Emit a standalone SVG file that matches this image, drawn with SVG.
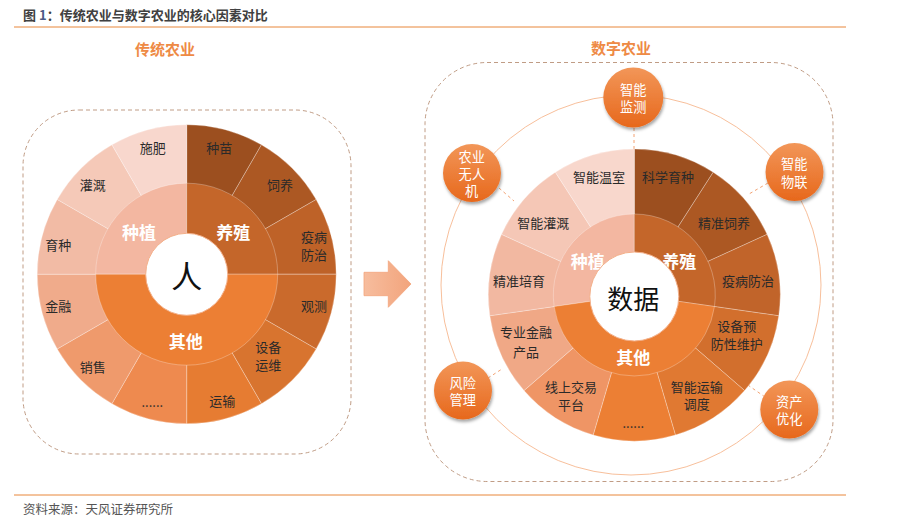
<svg xmlns="http://www.w3.org/2000/svg" width="911" height="517" viewBox="0 0 911 517">
<defs>
<linearGradient id="gBall" x1="0" y1="0" x2="0" y2="1">
<stop offset="0" stop-color="#F29658"/>
<stop offset="1" stop-color="#E7681C"/>
</linearGradient>
<linearGradient id="gArrow" x1="0" y1="0" x2="1" y2="0">
<stop offset="0" stop-color="#F7BD9E"/>
<stop offset="1" stop-color="#F2A47C"/>
</linearGradient>
<filter id="shadow" x="-30%" y="-30%" width="160%" height="170%">
<feDropShadow dx="1" dy="2.5" stdDeviation="1.6" flood-color="#000" flood-opacity="0.35"/>
</filter>
</defs>
<style>
text{font-family:"Noto Sans CJK SC","Noto Sans",sans-serif;}
.seg{stroke:#ffffff;stroke-opacity:0.35;stroke-width:0.8;}
.lbl{font-size:13px;fill:#2A2A2A;text-anchor:middle;dominant-baseline:central;}
.cat{font-size:17px;font-weight:bold;fill:#ffffff;text-anchor:middle;dominant-baseline:central;}
.ball{fill:url(#gBall);filter:url(#shadow);}
.btxt{font-size:13.2px;fill:#ffffff;text-anchor:middle;dominant-baseline:central;}
.box{fill:none;stroke:#C09C85;stroke-width:1;stroke-dasharray:4 3;}
.dash{fill:none;stroke:#F3A272;stroke-width:1;stroke-dasharray:3 3;}
.ring{fill:none;stroke:#F6B890;stroke-width:0.9;}
.title{font-size:15px;fill:#EE8A45;text-anchor:middle;dominant-baseline:central;font-weight:bold;}
</style>
<rect width="911" height="517" fill="#ffffff"/>

<g id="header">
<text x="23" y="14" font-size="13" font-weight="bold" fill="#404040" dominant-baseline="central">图 <tspan fill="#4A5A86">1</tspan>：传统农业与数字农业的核心因素对比</text>
<line x1="14" y1="27" x2="846" y2="27" stroke="#E8873A" stroke-width="1"/>
</g>

<g id="footer">
<line x1="14" y1="495" x2="846" y2="495" stroke="#E8873A" stroke-width="1"/>
<text x="23" y="508" font-size="12.5" fill="#555555" dominant-baseline="central">资料来源：天风证券研究所</text>
</g>

<text class="title" x="165" y="48">传统农业</text>
<text class="title" x="621" y="47">数字农业</text>

<rect class="box" x="23" y="110" width="328" height="344" rx="56" ry="56"/>
<rect class="box" x="425" y="62.5" width="408" height="419" rx="62" ry="62"/>

<g id="connectors">
<circle class="ring" cx="631" cy="285" r="190"/>
<line class="dash" x1="634" y1="128" x2="634" y2="149"/>
<line class="dash" x1="499" y1="188" x2="514" y2="201"/>
<line class="dash" x1="768" y1="183" x2="749" y2="194"/>
<line class="dash" x1="488" y1="378" x2="502" y2="369"/>
<line class="dash" x1="765" y1="397" x2="745" y2="383"/>
</g>

<g id="left-pie">
<g id="seg-zhongmiao"><path class="seg" fill="#9C4F1F" d="M186.7 274.2 L186.7 124.7 A149.5 149.5 0 0 1 261.45 144.73 Z"/><text class="lbl" x="219.3" y="147.3">种苗</text></g>
<g id="seg-siyang"><path class="seg" fill="#AC5823" d="M186.7 274.2 L261.45 144.73 A149.5 149.5 0 0 1 316.17 199.45 Z"/><text class="lbl" x="280" y="184">饲养</text></g>
<g id="seg-yibing"><path class="seg" fill="#BE6228" d="M186.7 274.2 L316.17 199.45 A149.5 149.5 0 0 1 336.2 274.2 Z"/><text class="lbl" x="314" y="236">疫病<tspan x="314" dy="18">防治</tspan></text></g>
<g id="seg-guance"><path class="seg" fill="#CA6A2C" d="M186.7 274.2 L336.2 274.2 A149.5 149.5 0 0 1 316.17 348.95 Z"/><text class="lbl" x="314" y="305">观测</text></g>
<g id="seg-shebei"><path class="seg" fill="#D8742F" d="M186.7 274.2 L316.17 348.95 A149.5 149.5 0 0 1 261.45 403.67 Z"/><text class="lbl" x="268.3" y="346.7">设备<tspan x="268.3" dy="17.3">运维</tspan></text></g>
<g id="seg-yunshu"><path class="seg" fill="#E67C32" d="M186.7 274.2 L261.45 403.67 A149.5 149.5 0 0 1 186.7 423.7 Z"/><text class="lbl" x="222.3" y="400">运输</text></g>
<g id="seg-etc-l"><path class="seg" fill="#EE8A4F" d="M186.7 274.2 L186.7 423.7 A149.5 149.5 0 0 1 111.95 403.67 Z"/><text class="lbl" x="152.3" y="401">......</text></g>
<g id="seg-xiaoshou"><path class="seg" fill="#EF9A6C" d="M186.7 274.2 L111.95 403.67 A149.5 149.5 0 0 1 57.23 348.95 Z"/><text class="lbl" x="92.7" y="366">销售</text></g>
<g id="seg-jinrong"><path class="seg" fill="#F0AB8B" d="M186.7 274.2 L57.23 348.95 A149.5 149.5 0 0 1 37.2 274.2 Z"/><text class="lbl" x="58.3" y="305">金融</text></g>
<g id="seg-yuzhong"><path class="seg" fill="#F2BBA5" d="M186.7 274.2 L37.2 274.2 A149.5 149.5 0 0 1 57.23 199.45 Z"/><text class="lbl" x="58.3" y="244">育种</text></g>
<g id="seg-guangai"><path class="seg" fill="#F5C9B8" d="M186.7 274.2 L57.23 199.45 A149.5 149.5 0 0 1 111.95 144.73 Z"/><text class="lbl" x="92.7" y="184">灌溉</text></g>
<g id="seg-shifei"><path class="seg" fill="#F8D7CD" d="M186.7 274.2 L111.95 144.73 A149.5 149.5 0 0 1 186.7 124.7 Z"/><text class="lbl" x="152.7" y="147.3">施肥</text></g>
<g id="cat-zhongzhi-l"><path class="seg" fill="#F3B7A1" d="M186.7 274.2 L95.7 274.2 A91 91 0 0 1 186.7 183.2 Z"/><text class="cat" x="139" y="231.7">种植</text></g>
<g id="cat-yangzhi-l"><path class="seg" fill="#C4662A" d="M186.7 274.2 L186.7 183.2 A91 91 0 0 1 277.7 274.2 Z"/><text class="cat" x="233.3" y="231.7">养殖</text></g>
<g id="cat-qita-l"><path class="seg" fill="#EC7F34" d="M186.7 274.2 L277.7 274.2 A91 91 0 0 1 95.7 274.2 Z"/><text class="cat" x="185.7" y="340.7">其他</text></g>
<g id="center-ren"><circle cx="186.7" cy="274.3" r="41" fill="#ffffff" stroke="#F3B08A" stroke-width="1"/><text x="186.7" y="274.3" font-size="31" fill="#111111" text-anchor="middle" dominant-baseline="central">人</text></g>
</g>

<g id="arrow">
<polygon points="364,272.3 388.3,272.3 388.3,260.7 411,284 388.3,307.3 388.3,295.7 364,295.7" fill="url(#gArrow)" stroke="#F3A57C" stroke-width="0.8"/>
</g>

<g id="right-pie">
<g id="seg-kexue"><path class="seg" fill="#9C4F1F" d="M634.3 295 L634.3 149 A146 146 0 0 1 713.23 172.17 Z"/><text class="lbl" x="668" y="176">科学育种</text></g>
<g id="seg-jingzhun-sy"><path class="seg" fill="#AC5823" d="M634.3 295 L713.23 172.17 A146 146 0 0 1 767.1 234.35 Z"/><text class="lbl" x="724" y="222.7">精准饲养</text></g>
<g id="seg-yibing-r"><path class="seg" fill="#C1642A" d="M634.3 295 L767.1 234.35 A146 146 0 0 1 778.81 315.78 Z"/><text class="lbl" x="748" y="280.7">疫病防治</text></g>
<g id="seg-shebei-r"><path class="seg" fill="#D26F2D" d="M634.3 295 L778.81 315.78 A146 146 0 0 1 744.63 390.62 Z"/><text class="lbl" x="736.7" y="325">设备预<tspan x="736.7" dy="17.7">防性维护</tspan></text></g>
<g id="seg-yunshu-r"><path class="seg" fill="#E07932" d="M634.3 295 L744.63 390.62 A146 146 0 0 1 675.43 435.09 Z"/><text class="lbl" x="696.7" y="386">智能运输<tspan x="696.7" dy="17.3">调度</tspan></text></g>
<g id="seg-etc-r"><path class="seg" fill="#EC7F34" d="M634.3 295 L675.43 435.09 A146 146 0 0 1 593.17 435.09 Z"/><text class="lbl" x="633.3" y="422">......</text></g>
<g id="seg-xianshang"><path class="seg" fill="#EF9565" d="M634.3 295 L593.17 435.09 A146 146 0 0 1 523.97 390.62 Z"/><text class="lbl" x="571" y="386">线上交易<tspan x="571" dy="18">平台</tspan></text></g>
<g id="seg-jinrong-r"><path class="seg" fill="#F0A886" d="M634.3 295 L523.97 390.62 A146 146 0 0 1 489.79 315.78 Z"/><text class="lbl" x="526" y="331.7">专业金融<tspan x="526" dy="19">产品</tspan></text></g>
<g id="seg-peiyu"><path class="seg" fill="#F2B8A1" d="M634.3 295 L489.79 315.78 A146 146 0 0 1 501.5 234.35 Z"/><text class="lbl" x="519" y="280.7">精准培育</text></g>
<g id="seg-guangai-r"><path class="seg" fill="#F5C7B6" d="M634.3 295 L501.5 234.35 A146 146 0 0 1 555.37 172.17 Z"/><text class="lbl" x="543.3" y="222.7">智能灌溉</text></g>
<g id="seg-wenshi"><path class="seg" fill="#F8D7CC" d="M634.3 295 L555.37 172.17 A146 146 0 0 1 634.3 149 Z"/><text class="lbl" x="599" y="176">智能温室</text></g>
<g id="cat-zhongzhi-r"><path class="seg" fill="#F3B7A1" d="M634.3 295 L554.13 306.53 A81 81 0 0 1 634.3 214 Z"/><text class="cat" x="587.7" y="260.7">种植</text></g>
<g id="cat-yangzhi-r"><path class="seg" fill="#C4662A" d="M634.3 295 L634.3 214 A81 81 0 0 1 714.47 306.53 Z"/><text class="cat" x="679.3" y="260.7">养殖</text></g>
<g id="cat-qita-r"><path class="seg" fill="#EC7F34" d="M634.3 295 L714.47 306.53 A81 81 0 0 1 554.13 306.53 Z"/><text class="cat" x="633.3" y="356.7">其他</text></g>
<g id="center-shuju"><circle cx="634.3" cy="296.5" r="44.5" fill="#ffffff" stroke="#F3B08A" stroke-width="1"/><text x="633.3" y="297.3" font-size="26" fill="#111111" text-anchor="middle" dominant-baseline="central">数据</text></g>
</g>

<g id="node-jiance"><circle class="ball" cx="633.3" cy="97.5" r="30"/><text class="btxt" x="633.3" y="89">智能<tspan x="633.3" dy="17.2">监测</tspan></text></g>
<g id="node-wurenji"><circle class="ball" cx="472" cy="173" r="29"/><text class="btxt" x="471.7" y="156">农业<tspan x="471.7" dy="17.2">无人</tspan><tspan x="471.7" dy="17.2">机</tspan></text></g>
<g id="node-wulian"><circle class="ball" cx="794.5" cy="172" r="29"/><text class="btxt" x="794.3" y="163.6">智能<tspan x="794.3" dy="17.2">物联</tspan></text></g>
<g id="node-zichan"><circle class="ball" cx="789.3" cy="409.5" r="29"/><text class="btxt" x="789.3" y="401">资产<tspan x="789.3" dy="17.2">优化</tspan></text></g>
<g id="node-fengxian"><circle class="ball" cx="463" cy="390.5" r="29"/><text class="btxt" x="462.7" y="382.2">风险<tspan x="462.7" dy="17.2">管理</tspan></text></g>
</svg>
